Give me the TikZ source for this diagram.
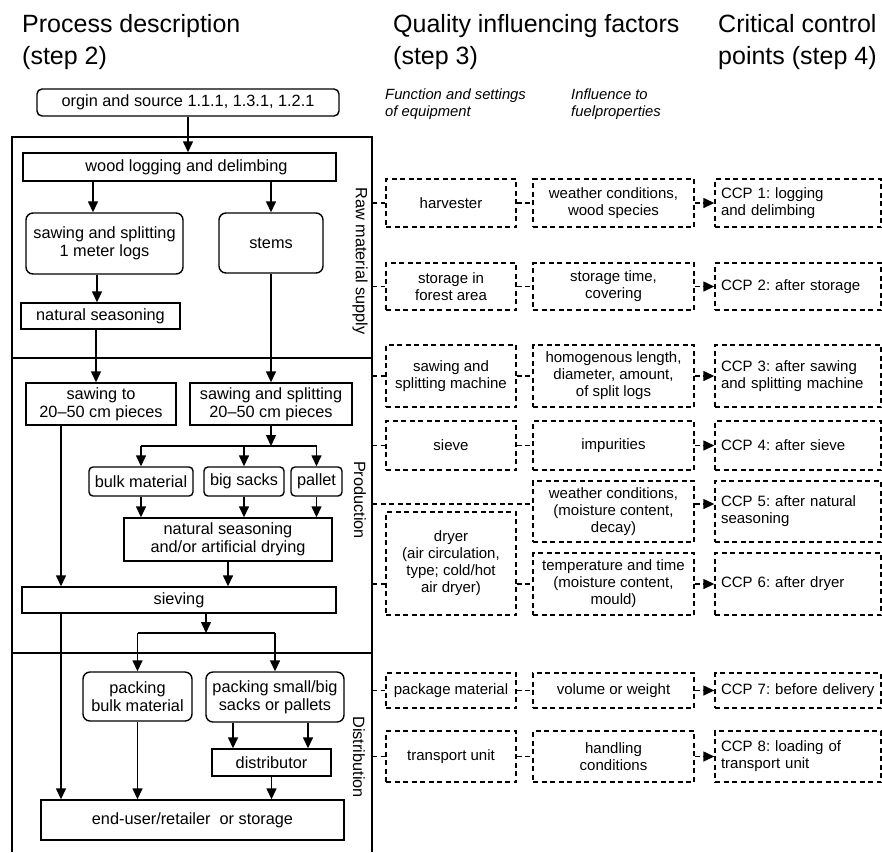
\documentclass[tikz,border=0pt]{standalone}
\usepackage{fontspec}
\setmainfont{Liberation Sans}
\usetikzlibrary{arrows.meta}
\frenchspacing
\begin{document}
\begin{tikzpicture}[x=1pt,y=-1pt,
  bx/.style={draw, line width=1.4pt, align=center, inner sep=0pt, font=\fontsize{16.3}{18}\selectfont},
  rbx/.style={bx, rounded corners=7pt},
  dbx/.style={draw, line width=1.4pt, dash pattern=on 5pt off 3.5pt, align=center, inner sep=0pt, font=\fontsize{15}{17}\selectfont},
  cbx/.style={dbx, align=left, text width=154pt},
  sz/.style 2 args={minimum width=#1, minimum height=#2},
  ln/.style={line width=1.4pt},
  frame/.style={line width=1.8pt},
  arr/.style={line width=1.4pt, -{Triangle[length=11pt,width=10pt]}},
  dln/.style={line width=1.4pt, dash pattern=on 5pt off 3.5pt},
  darr/.style={dln, -{Triangle[length=11pt,width=10pt]}},
  hd/.style={anchor=base west, inner sep=0pt, font=\fontsize{25}{29}\selectfont},
  sub/.style={anchor=base west, inner sep=0pt, font=\fontsize{14.8}{17}\selectfont\itshape},
  side/.style={rotate=-90, inner sep=0pt, font=\fontsize{16.3}{18}\selectfont}
]
\useasboundingbox (0,0) rectangle (882,852);

% headings
\node[hd] (h1a) at (22,32) {Process description};
\node[hd] (h1b) at (22,64) {(step 2)};
\node[hd] (h2a) at (393,32) {Quality influencing factors};
\node[hd] (h2b) at (393,64) {(step 3)};
\node[hd] (h3a) at (718,32) {Critical control};
\node[hd] (h3b) at (718,64) {points (step 4)};
\node[sub] (s1a) at (385,99) {Function and settings};
\node[sub] (s1b) at (385,116) {of equipment};
\node[sub] (s2a) at (571,99) {Influence to};
\node[sub] (s2b) at (571,116) {fuelproperties};

% frame
\coordinate (fTL) at (12,137); \coordinate (fTR) at (372,137);
\coordinate (fBL) at (12,852); \coordinate (fBR) at (372,852);
\coordinate (fr) at (372,0);
\coordinate (sA1) at (12,358); \coordinate (sA2) at (372,358);
\coordinate (sB1) at (12,653); \coordinate (sB2) at (372,653);
\draw[frame] (fBL) -- (fTL) -- (fTR) -- (fBR);
\draw[frame] (sA1) -- (sA2);
\draw[frame] (sB1) -- (sB2);
\node[side] (lraw) at (360,261) {Raw material supply};
\node[side] (lprod) at (360,500) {Production};
\node[side] (ldist) at (359,757) {Distribution};

% process nodes
\node[rbx, rounded corners=5pt, sz={302pt}{27pt}] (origin) at (188,102.5) {orgin and source 1.1.1, 1.3.1, 1.2.1};
\node[bx, sz={313pt}{28pt}] (wood) at (179.5,167) {\hspace*{14pt}wood logging and delimbing};
\node[rbx, sz={157pt}{61pt}] (saw1m) at (104.5,243.5) {sawing and splitting\\1 meter logs};
\node[rbx, sz={104pt}{60pt}] (stems) at (271,243) {stems};
\node[bx, sz={159pt}{26pt}] (natseas) at (100.5,316) {natural seasoning};
\node[bx, sz={150pt}{42pt}] (sawto) at (101,404) {sawing to\\20--50 cm pieces};
\node[bx, sz={162pt}{42pt}] (sawsplit) at (271,404) {sawing and splitting\\20--50 cm pieces};
\node[rbx, rounded corners=4pt, sz={104pt}{29pt}] (bulk) at (141,481.5) {bulk material};
\node[rbx, rounded corners=4pt, sz={80pt}{29pt}] (bigsacks) at (244,481.5) {big sacks};
\node[rbx, rounded corners=4pt, sz={51pt}{29pt}] (pallet) at (316.5,481.5) {pallet};
\node[bx, sz={208pt}{43pt}] (natdry) at (228,539.5) {natural seasoning\\and/or artificial drying};
\node[bx, sz={314pt}{26pt}] (sieving) at (179,600) {sieving};
\node[rbx, sz={109pt}{49pt}] (packbulk) at (137.5,696.5) {packing\\bulk material};
\node[rbx, sz={138pt}{50pt}] (packsmall) at (275,697) {packing small/big\\sacks or pallets};
\node[bx, sz={119pt}{27pt}] (distr) at (271.5,762.5) {distributor};
\node[bx, sz={303pt}{40pt}] (enduser) at (192.5,820) {end-user/retailer\ \ or storage};

% process connectors
\draw[arr] (origin.south) -- (origin.south |- wood.north);
\draw[arr] ([xshift=-11.5pt]saw1m.north |- wood.south) -- ([xshift=-11.5pt]saw1m.north);
\draw[arr] (stems.north |- wood.south) -- (stems.north);
\draw[arr] ([xshift=-7.5pt]saw1m.south) -- ([xshift=-7.5pt]saw1m.south |- natseas.north);
\draw[arr] ([xshift=-4.5pt]natseas.south) -- ([xshift=-4.5pt]natseas.south |- sawto.north);
\draw[arr] (stems.south) -- (stems.south |- sawsplit.north);
\coordinate (j1) at (272,446);
\draw[arr] (sawsplit.south) -- (sawsplit.south |- j1);
\draw[ln] (bulk.north |- j1) -- (pallet.north |- j1);
\draw[arr] (bulk.north |- j1) -- (bulk.north);
\draw[arr] (bigsacks.north |- j1) -- (bigsacks.north);
\draw[arr] (pallet.north |- j1) -- (pallet.north);
\draw[arr] (bulk.south) -- (bulk.south |- natdry.north);
\draw[arr] (bigsacks.south) -- (bigsacks.south |- natdry.north);
\draw[arr] (pallet.south) -- (pallet.south |- natdry.north);
\draw[arr] (natdry.south) -- (natdry.south |- sieving.north);
\draw[arr] ([xshift=-40pt]sawto.south) -- ([xshift=-40pt]sawto.south |- sieving.north);
\draw[arr] ([xshift=-118pt]sieving.south) -- ([xshift=-118pt]sieving.south |- enduser.north);
\coordinate (j2) at (206,633);
\draw[arr] ([xshift=27pt]sieving.south) -- ([xshift=27pt]sieving.south |- j2);
\draw[ln] (packbulk.north |- j2) -- (packsmall.north |- j2);
\draw[arr] (packbulk.north |- j2) -- (packbulk.north);
\draw[arr] (packsmall.north |- j2) -- (packsmall.north);
\draw[arr] ([xshift=-42pt]packsmall.south) -- ([xshift=-42pt]packsmall.south |- distr.north);
\draw[arr] ([xshift=33pt]packsmall.south) -- ([xshift=33pt]packsmall.south |- distr.north);
\draw[arr] (packbulk.south) -- (packbulk.south |- enduser.north);
\draw[arr] (distr.south) -- (distr.south |- enduser.north);

% quality factor nodes
\node[dbx, sz={130pt}{48pt}] (e1) at (451,203) {harvester};
\node[dbx, sz={161pt}{48pt}] (f1) at (613.5,203) {weather conditions,\\wood species};
\node[cbx, sz={166pt}{48pt}] (c1) at (798,203) {CCP 1: logging\\and delimbing};

\node[dbx, sz={130pt}{47pt}] (e2) at (451,286.5) {storage in\\forest area};
\node[dbx, sz={161pt}{47pt}] (f2) at (613.5,286.5) {storage time,\\covering};
\node[cbx, sz={166pt}{47pt}] (c2) at (798,286.5) {CCP 2: after storage};

\node[dbx, sz={130pt}{62pt}] (e3) at (451,376) {sawing and\\splitting machine};
\node[dbx, sz={161pt}{62pt}] (f3) at (613.5,376) {homogenous length,\\diameter, amount,\\of split logs};
\node[cbx, sz={166pt}{62pt}] (c3) at (798,376) {CCP 3: after sawing\\and splitting machine};

\node[dbx, sz={130pt}{49pt}] (e4) at (451,445.5) {sieve};
\node[dbx, sz={161pt}{49pt}] (f4) at (613.5,445.5) {impurities};
\node[cbx, sz={166pt}{49pt}] (c4) at (798,445.5) {CCP 4: after sieve};

\node[dbx, sz={161pt}{61pt}] (f5) at (613.5,511.5) {weather conditions,\\(moisture content,\\decay)};
\node[cbx, sz={166pt}{61pt}] (c5) at (798,511.5) {CCP 5: after natural\\seasoning};

\node[dbx, sz={130pt}{103pt}] (e6) at (451,563.5) {dryer\\(air circulation,\\type; cold/hot\\air dryer)};
\node[dbx, sz={161pt}{62pt}] (f6) at (613.5,584) {temperature and time\\(moisture content,\\mould)};
\node[cbx, sz={166pt}{62pt}] (c6) at (798,584) {CCP 6: after dryer};

\node[dbx, sz={130pt}{35pt}] (e7) at (451,690.5) {package material};
\node[dbx, sz={161pt}{35pt}] (f7) at (613.5,690.5) {volume or weight};
\node[cbx, sz={166pt}{35pt}] (c7) at (798,690.5) {CCP 7: before delivery};

\node[dbx, sz={130pt}{51pt}] (e8) at (451,756.5) {transport unit};
\node[dbx, sz={161pt}{51pt}] (f8) at (613.5,756.5) {handling\\conditions};
\node[cbx, sz={166pt}{51pt}] (c8) at (798,756.5) {CCP 8: loading of\\transport unit};

% quality connectors
\foreach \i in {1,2,3,4,7,8} {
  \draw[dln] (fr |- e\i.west) -- (e\i.west);
  \draw[dln] (e\i.east) -- (f\i.west);
  \draw[darr] (f\i.east) -- (c\i.west);
}
\coordinate (r5) at ([yshift=7.5pt]f5.west);
\draw[dln] (fr |- r5) -- (r5);
\draw[darr] (f5.east |- r5) -- (c5.west |- r5);
\draw[dln] (fr |- f6.west) -- (e6.west |- f6.west);
\draw[dln] (e6.east |- f6.west) -- (f6.west);
\draw[darr] (f6.east) -- (c6.west);
\end{tikzpicture}
\end{document}
